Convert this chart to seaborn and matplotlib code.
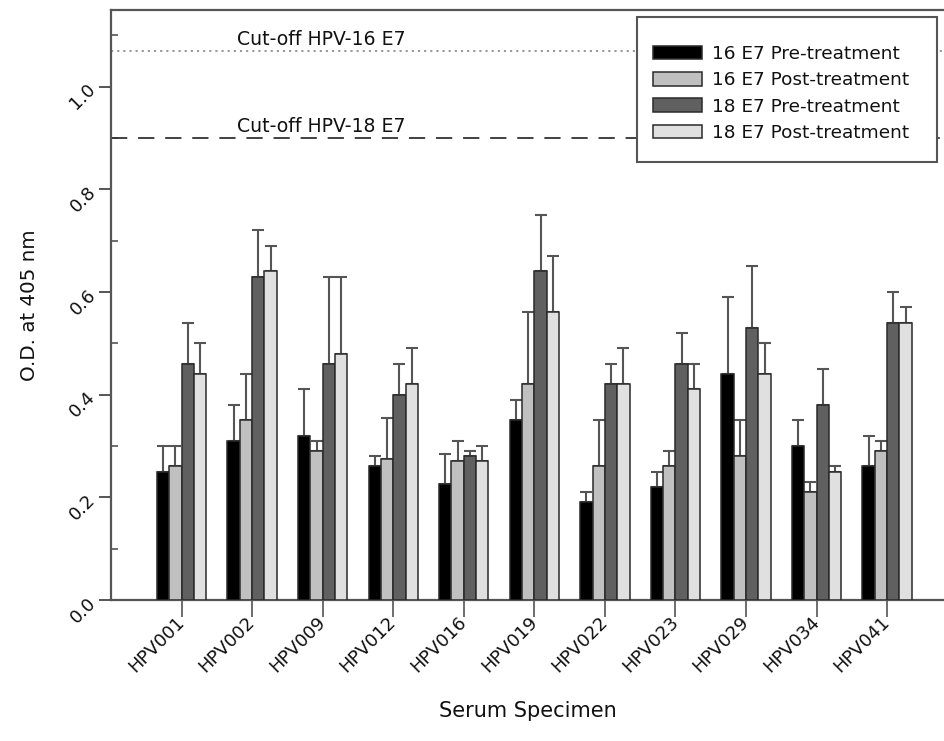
import numpy as np
import pandas as pd
import matplotlib
matplotlib.use("Agg")
import matplotlib.pyplot as plt
from matplotlib.ticker import MultipleLocator
from matplotlib.patches import Rectangle
import seaborn as sns

specimens = ["HPV001", "HPV002", "HPV009", "HPV012", "HPV016", "HPV019",
             "HPV022", "HPV023", "HPV029", "HPV034", "HPV041"]
series_names = ["16 E7 Pre-treatment", "16 E7 Post-treatment",
                "18 E7 Pre-treatment", "18 E7 Post-treatment"]

e16_pre = [0.25, 0.31, 0.32, 0.26, 0.225, 0.35, 0.19, 0.22, 0.44, 0.30, 0.26]
e16_post = [0.26, 0.35, 0.29, 0.275, 0.27, 0.42, 0.26, 0.26, 0.28, 0.21, 0.29]
e18_pre = [0.46, 0.63, 0.46, 0.40, 0.28, 0.64, 0.42, 0.46, 0.53, 0.38, 0.54]
e18_post = [0.44, 0.64, 0.48, 0.42, 0.27, 0.56, 0.42, 0.41, 0.44, 0.25, 0.54]

e16_pre_err = [0.05, 0.07, 0.09, 0.02, 0.06, 0.04, 0.02, 0.03, 0.15, 0.05, 0.06]
e16_post_err = [0.04, 0.09, 0.02, 0.08, 0.04, 0.14, 0.09, 0.03, 0.07, 0.02, 0.02]
e18_pre_err = [0.08, 0.09, 0.17, 0.06, 0.01, 0.11, 0.04, 0.06, 0.12, 0.07, 0.06]
e18_post_err = [0.06, 0.05, 0.15, 0.07, 0.03, 0.11, 0.07, 0.05, 0.06, 0.01, 0.03]

cutoff_16 = 1.07
cutoff_18 = 0.90

colors = ["#000000", "#c0c0c0", "#606060", "#e0e0e0"]

values = [e16_pre, e16_post, e18_pre, e18_post]
errors = [e16_pre_err, e16_post_err, e18_pre_err, e18_post_err]

rows = []
for name, vals in zip(series_names, values):
    for s, v in zip(specimens, vals):
        rows.append({"Specimen": s, "Series": name, "OD": v})
df = pd.DataFrame(rows)

sns.set_style("white")
plt.rcParams["font.family"] = ["DejaVu Sans"]
plt.rcParams["text.color"] = "#111111"
plt.rcParams["axes.labelcolor"] = "#111111"
plt.rcParams["xtick.labelcolor"] = "#111111"
plt.rcParams["ytick.labelcolor"] = "#111111"

W, H = 945, 741
fig = plt.figure(figsize=(9.45, 7.41), dpi=100)
ax = fig.add_axes([111 / W, 1 - 600 / H, 1 - 111 / W, (600 - 9.5) / H])

sns.barplot(data=df, x="Specimen", y="OD", hue="Series", order=specimens,
            hue_order=series_names, palette=colors, saturation=1, width=0.7,
            edgecolor="#2a2a2a", linewidth=1.1, errorbar=None, ax=ax, zorder=3)

for cont, errs in zip(ax.containers, errors):
    xs = [b.get_x() + b.get_width() / 2 for b in cont]
    hs = [b.get_height() for b in cont]
    ax.errorbar(xs, hs, yerr=[np.zeros(len(errs)), errs], fmt="none",
                ecolor="#555555", elinewidth=1.5, capsize=4.5, capthick=1.5,
                zorder=2)

ax.axhline(cutoff_16, color="#909090", linestyle=(0, (1.2, 2.2)), linewidth=1.3, zorder=1)
ax.axhline(cutoff_18, color="#333333", linestyle=(0, (9, 6)), linewidth=1.3, zorder=1)
ax.text(0.79, cutoff_16 + 0.003, "Cut-off HPV-16 E7", fontsize=13.6,
        ha="left", va="bottom", color="#111111", zorder=4)
ax.text(0.79, cutoff_18 + 0.003, "Cut-off HPV-18 E7", fontsize=13.6,
        ha="left", va="bottom", color="#111111", zorder=4)

ax.set_xlim(-1.0, 10.82)
ax.set_ylim(0, 1.15)
ax.yaxis.set_major_locator(MultipleLocator(0.2))
ax.yaxis.set_minor_locator(MultipleLocator(0.1))
ax.set_yticks(np.arange(0, 1.01, 0.2))
ax.set_yticklabels([f"{v:.1f}" for v in np.arange(0, 1.01, 0.2)])

for side in ["left", "bottom", "top"]:
    ax.spines[side].set_color("#555555")
    ax.spines[side].set_linewidth(1.6)
ax.spines["right"].set_visible(False)

ax.tick_params(axis="y", which="major", direction="out", length=9, width=1.4,
               color="#555555", labelsize=13, pad=4, left=True)
ax.tick_params(axis="y", which="minor", direction="in", length=5, width=1.2,
               color="#555555", left=True)
ax.tick_params(axis="x", which="major", direction="out", length=12, width=1.2,
               color="#555555", labelsize=13, pad=2, bottom=True)

for lab in ax.get_yticklabels():
    lab.set_rotation(45)
    lab.set_rotation_mode("anchor")
    lab.set_ha("right")
    lab.set_va("center")
for lab in ax.get_xticklabels():
    lab.set_rotation(45)
    lab.set_rotation_mode("anchor")
    lab.set_ha("right")
    lab.set_va("center")

ax.set_xlabel("Serum Specimen", fontsize=15, labelpad=18)
ax.set_ylabel("O.D. at 405 nm", fontsize=14.3, labelpad=20)

# legend box (frame drawn separately so that padding matches the reference)
box = Rectangle((637 / W, 1 - 162 / H), (937 - 637) / W, (162 - 17) / H,
                transform=fig.transFigure, facecolor="white",
                edgecolor="#555555", linewidth=1.5, zorder=9)
fig.add_artist(box)

handles, labels = ax.get_legend_handles_labels()
if ax.get_legend() is not None:
    ax.get_legend().remove()
leg = fig.legend(handles, labels, loc="upper left",
                 bbox_to_anchor=(653 / W, 1 - 45 / H),
                 bbox_transform=fig.transFigure, fontsize=13.3, frameon=False,
                 handlelength=2.65, handleheight=0.75, labelspacing=0.45,
                 handletextpad=0.55, borderpad=0, borderaxespad=0)
leg.set_zorder(10)

fig.savefig("out.png", dpi=100)
